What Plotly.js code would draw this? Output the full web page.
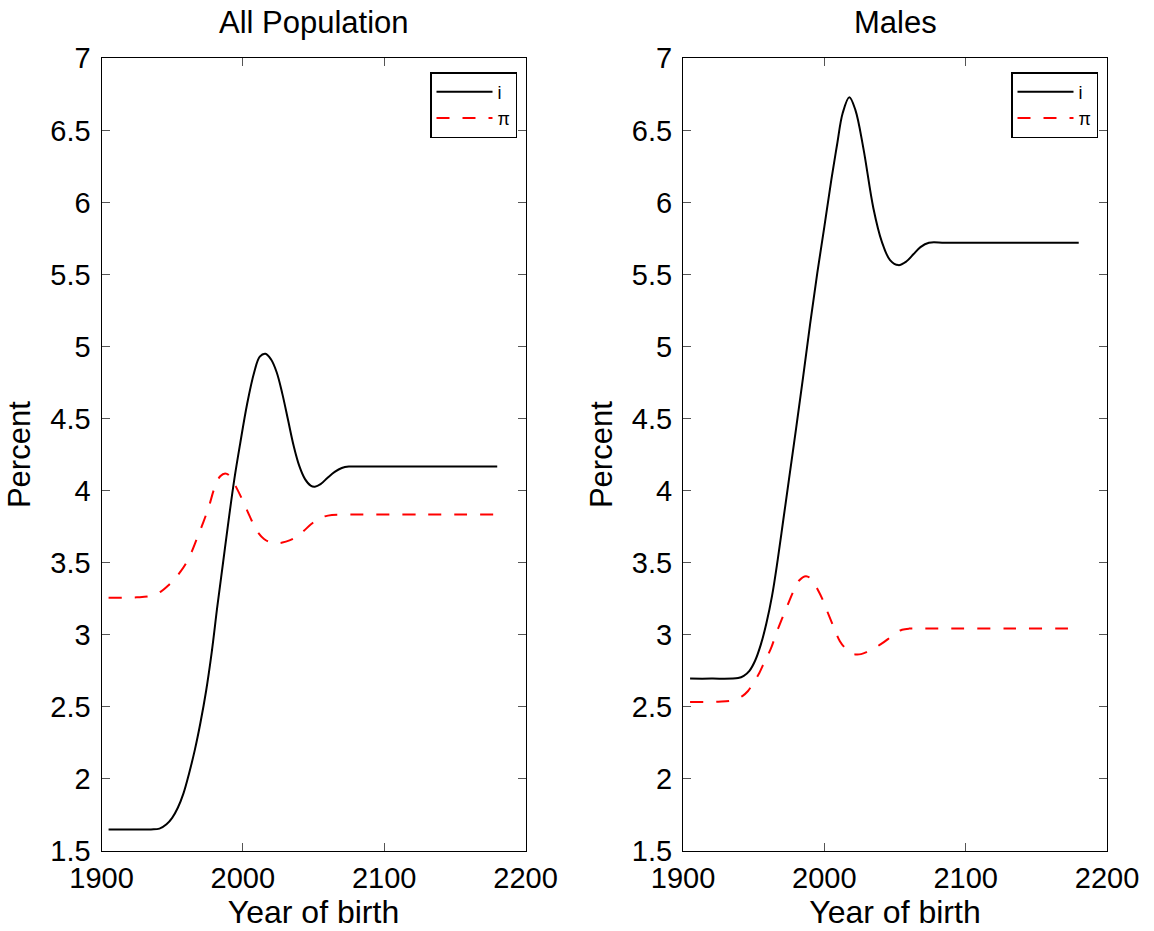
<!DOCTYPE html>
<html>
<head>
<meta charset="utf-8">
<script src="https://cdn.plot.ly/plotly-3.0.1.min.js"></script>
<style>html,body{margin:0;padding:0;background:#fff;}#chart{width:1154px;height:931px;}</style>
</head>
<body>
<div id="chart"></div>
<script>
// ---- Data ----
var allIYears = [1905, 1920, 1935, 1941, 1946, 1950, 1954, 1958, 1962, 1966, 1970, 1974, 1978, 1982, 1986, 1990, 1994, 1998, 2003, 2008, 2012, 2016, 2020, 2024, 2028, 2032, 2036, 2040, 2044, 2048, 2051, 2055, 2060, 2065, 2070, 2075, 2085, 2100, 2140, 2180];
var allIValues = [1.65, 1.65, 1.65, 1.655, 1.685, 1.73, 1.80, 1.90, 2.04, 2.20, 2.39, 2.61, 2.88, 3.20, 3.50, 3.80, 4.08, 4.32, 4.60, 4.82, 4.93, 4.95, 4.91, 4.82, 4.67, 4.49, 4.31, 4.17, 4.08, 4.035, 4.028, 4.045, 4.09, 4.13, 4.157, 4.167, 4.167, 4.167, 4.167, 4.167];

var allPiYears = [1905, 1925, 1935, 1942, 1947, 1952, 1956, 1960, 1964, 1968, 1972, 1976, 1980, 1984, 1987.5, 1991, 1995, 2000, 2005, 2010, 2015, 2020, 2023, 2028, 2033, 2038, 2043, 2048, 2053, 2058, 2063, 2068, 2080, 2130, 2180];
var allPiValues = [3.257, 3.26, 3.27, 3.30, 3.34, 3.39, 3.44, 3.50, 3.58, 3.68, 3.78, 3.89, 4.02, 4.10, 4.12, 4.10, 4.03, 3.93, 3.82, 3.72, 3.665, 3.64, 3.635, 3.64, 3.655, 3.68, 3.72, 3.765, 3.80, 3.822, 3.832, 3.834, 3.834, 3.834, 3.834];

var maleIYears = [1905, 1920, 1939, 1943, 1947, 1951, 1955, 1959, 1963, 1967, 1971, 1975, 1980, 1985, 1990, 1995, 2000, 2005, 2009, 2013, 2017.7, 2022, 2027.6, 2034.7, 2040.6, 2046.5, 2052.4, 2058, 2063, 2068, 2074, 2085, 2100, 2140, 2180];
var maleIValues = [2.696, 2.696, 2.70, 2.715, 2.75, 2.82, 2.93, 3.08, 3.27, 3.52, 3.80, 4.08, 4.43, 4.79, 5.16, 5.51, 5.83, 6.16, 6.40, 6.62, 6.73, 6.64, 6.377, 5.96, 5.73, 5.60, 5.565, 5.59, 5.64, 5.69, 5.72, 5.72, 5.72, 5.72, 5.72];

var malePiYears = [1905, 1925, 1935, 1942, 1946, 1950, 1954, 1958, 1962, 1966, 1970, 1974, 1978, 1982, 1987, 1991, 1995, 1999, 2003, 2007, 2011, 2015, 2019, 2022, 2026, 2030, 2035, 2040, 2045, 2050, 2055, 2060, 2065, 2080, 2130, 2180];
var malePiValues = [2.534, 2.536, 2.545, 2.575, 2.61, 2.67, 2.735, 2.82, 2.90, 3.01, 3.11, 3.205, 3.30, 3.375, 3.407, 3.385, 3.32, 3.24, 3.14, 3.045, 2.955, 2.905, 2.872, 2.864, 2.866, 2.88, 2.905, 2.935, 2.97, 3.01, 3.035, 3.043, 3.044, 3.044, 3.044, 3.044];

var xTicks = [1900, 2000, 2100, 2200];
var xTickText = ['1900', '2000', '2100', '2200'];
var yTicks = [1.5, 2, 2.5, 3, 3.5, 4, 4.5, 5, 5.5, 6, 6.5, 7];
var yTickText = ['1.5', '2', '2.5', '3', '3.5', '4', '4.5', '5', '5.5', '6', '6.5', '7'];
var panelTitles = ['All Population', 'Males'];
var xTitle = 'Year of birth';
var yTitle = 'Percent';
var seriesNames = ['i', 'π'];

// ---- Styles ----
var FONT = 'Liberation Sans, Arial, Helvetica, sans-serif';
var solid = {color: '#000000', width: 2, shape: 'spline', smoothing: 1};
var dashed = {color: '#ff0000', width: 2, dash: '13px,13px', shape: 'spline', smoothing: 1};

var traces = [
  {x: allIYears, y: allIValues, name: seriesNames[0], mode: 'lines', line: solid, xaxis: 'x', yaxis: 'y', legend: 'legend'},
  {x: allPiYears, y: allPiValues, name: seriesNames[1], mode: 'lines', line: dashed, xaxis: 'x', yaxis: 'y', legend: 'legend'},
  {x: maleIYears, y: maleIValues, name: seriesNames[0], mode: 'lines', line: solid, xaxis: 'x2', yaxis: 'y2', legend: 'legend2'},
  {x: malePiYears, y: malePiValues, name: seriesNames[1], mode: 'lines', line: dashed, xaxis: 'x2', yaxis: 'y2', legend: 'legend2'}
];

function xAxis(domain, anchor) {
  return {
    domain: domain, anchor: anchor, range: [1900, 2200],
    tickmode: 'array', tickvals: xTicks, ticktext: xTickText,
    ticks: 'inside', ticklen: 8, tickwidth: 1, tickcolor: '#555555',
    showline: true, linecolor: '#000000', linewidth: 1, mirror: 'ticks',
    showgrid: false, zeroline: false, automargin: false,
    tickfont: {family: FONT, size: 29, color: '#000000'},
    ticklabelstandoff: 1,
    title: {text: xTitle, font: {family: FONT, size: 32, color: '#000000'}, standoff: 2}
  };
}
function yAxis(domain, anchor) {
  return {
    domain: domain, anchor: anchor, range: [1.5, 7],
    tickmode: 'array', tickvals: yTicks, ticktext: yTickText,
    ticks: 'inside', ticklen: 8, tickwidth: 1, tickcolor: '#555555',
    showline: true, linecolor: '#000000', linewidth: 1, mirror: 'ticks',
    showgrid: false, zeroline: false, automargin: false,
    tickfont: {family: FONT, size: 29, color: '#000000'},
    ticklabelstandoff: 4,
    title: {text: yTitle, font: {family: FONT, size: 31, color: '#000000'}, standoff: 10}
  };
}

var yDom = [1 - 851 / 931, 1 - 58.3 / 931];
var legendStyle = function (xr) {
  return {
    x: xr, y: 1 - 72 / 931, xanchor: 'right', yanchor: 'top',
    bgcolor: '#ffffff', bordercolor: '#000000', borderwidth: 1.5,
    font: {family: FONT, size: 18, color: '#000000'},
    itemwidth: 56, tracegroupgap: 0
  };
};

var layout = {
  width: 1154, height: 931,
  margin: {l: 0, r: 0, t: 0, b: 0},
  paper_bgcolor: '#ffffff', plot_bgcolor: '#ffffff',
  showlegend: true,
  xaxis: xAxis([101.5 / 1154, 525.5 / 1154], 'y'),
  yaxis: yAxis(yDom, 'x'),
  xaxis2: xAxis([683 / 1154, 1107 / 1154], 'y2'),
  yaxis2: yAxis(yDom, 'x2'),
  legend: legendStyle(517 / 1154),
  legend2: legendStyle(1098 / 1154),
  annotations: [
    {text: panelTitles[0], xref: 'paper', yref: 'paper', x: 313.5 / 1154, y: 1 - 22 / 931, xanchor: 'center', yanchor: 'middle', showarrow: false, font: {family: FONT, size: 31, color: '#000000'}},
    {text: panelTitles[1], xref: 'paper', yref: 'paper', x: 895 / 1154, y: 1 - 22 / 931, xanchor: 'center', yanchor: 'middle', showarrow: false, font: {family: FONT, size: 31, color: '#000000'}}
  ]
};

Plotly.newPlot('chart', traces, layout, {displayModeBar: false, staticPlot: true});
</script>
</body>
</html>
